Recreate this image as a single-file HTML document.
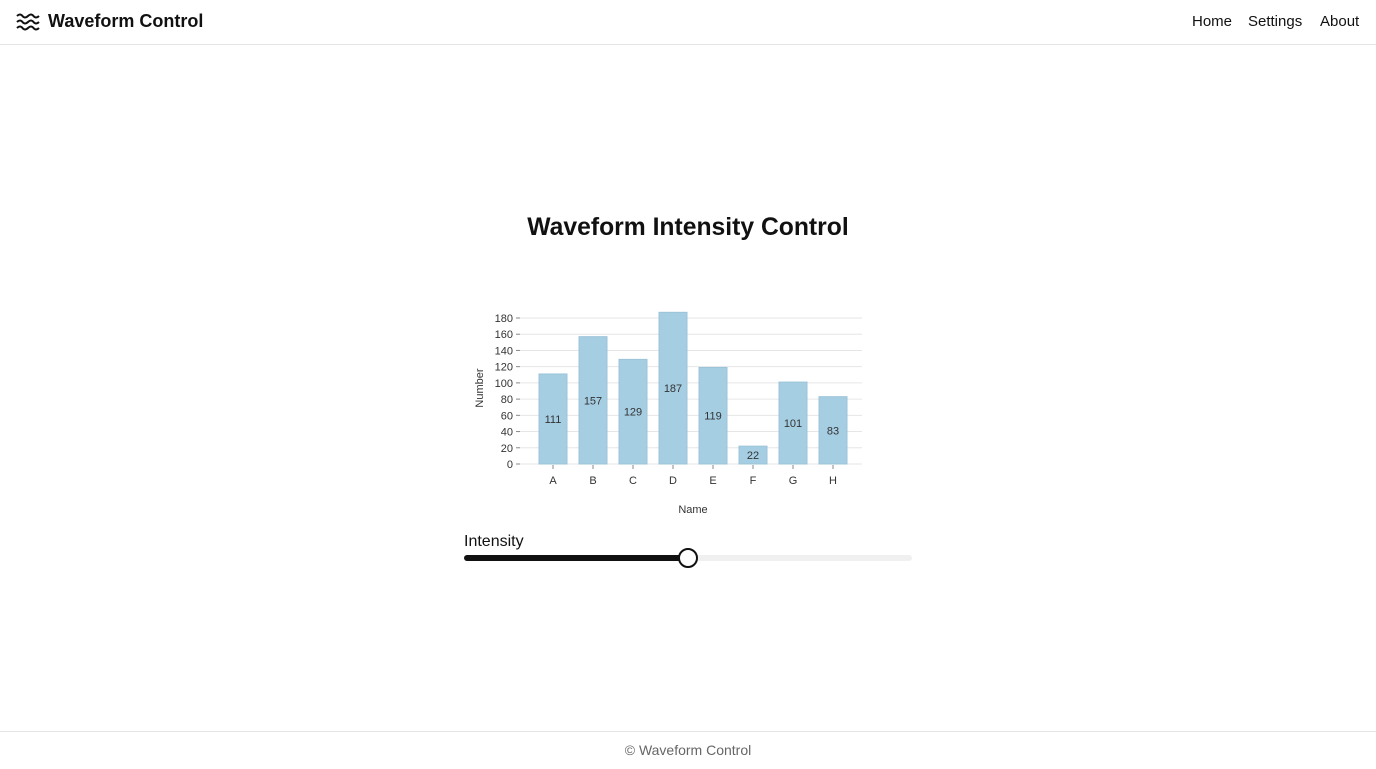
<!DOCTYPE html>
<html><head><meta charset="utf-8"><style>
body{margin:0;width:1376px;height:768px;background:#fff;font-family:"Liberation Sans",sans-serif;position:relative;overflow:hidden}
.hdr{position:absolute;left:0;top:0;width:1376px;height:44px;border-bottom:1px solid #e5e5e5}
.brand{position:absolute;left:48px;top:11px;font-size:18px;font-weight:bold;color:#111}
.nav{position:absolute;top:13px;font-size:15px;color:#111}
h1{position:absolute;left:0;width:1376px;top:214px;margin:0;text-align:center;font-size:24.7px;font-weight:bold;color:#111}
.foot{position:absolute;left:0;top:731px;width:1376px;height:37px;border-top:1px solid #e5e5e5;text-align:center;line-height:37px;font-size:14px;color:#666}
</style></head><body>
<div class="hdr">
<svg style="position:absolute;left:16px;top:13px" width="24" height="18" viewBox="0 0 24 18" fill="none" stroke="#111" stroke-width="2"><path d="M1 3q3-3 5.5 0t5.5 0 5.5 0 5.5 0"/><path d="M1 9q3-3 5.5 0t5.5 0 5.5 0 5.5 0"/><path d="M1 15q3-3 5.5 0t5.5 0 5.5 0 5.5 0"/></svg>
<div class="brand">Waveform Control</div>
<div class="nav" style="left:1192px">Home</div>
<div class="nav" style="left:1248px">Settings</div>
<div class="nav" style="left:1320px">About</div>
</div>
<h1>Waveform Intensity Control</h1>
<svg id="chart" style="position:absolute;left:0;top:0" width="1376" height="768"></svg>
<div style="position:absolute;left:464px;top:533px;font-size:16px;color:#111">Intensity</div>
<div style="position:absolute;left:464px;top:555px;width:448px;height:6px;border-radius:3px;background:#f0f0f0">
<div style="position:absolute;left:0;top:0;width:224px;height:6px;border-radius:3px;background:#111"></div>
<div style="position:absolute;left:214px;top:-7px;width:16px;height:16px;border-radius:50%;background:#fff;border:2px solid #111"></div>
</div>
<div class="foot">© Waveform Control</div>
<script>
const categories=["A","B","C","D","E","F","G","H"];
const values=[111,157,129,187,119,22,101,83];
const yTicks=[0,20,40,60,80,100,120,140,160,180];
const svg=document.getElementById('chart');const NS='http://www.w3.org/2000/svg';
function y(v){return 464-v*146/180;}
function x(i){return 553+i*40;}
function mk(t,a,txt){const e=document.createElementNS(NS,t);for(const k in a)e.setAttribute(k,a[k]);if(txt!==undefined)e.textContent=txt;svg.appendChild(e);return e;}
yTicks.forEach(t=>{
const g=mk('line',{x1:520,x2:862,y1:y(t),y2:y(t),stroke:'#e6e6e6','stroke-width':1});


mk('line',{x1:516,x2:520,y1:y(t),y2:y(t),stroke:'#888'});
const l=mk('text',{x:513,y:y(t)+4,'text-anchor':'end','font-size':11,fill:'#333','font-family':'Liberation Sans'},t);


});
categories.forEach((c,i)=>{
const b=mk('rect',{x:x(i)-14,y:y(values[i]),width:28,height:464-y(values[i]),fill:'#a6cee3',stroke:'#9cc4d9','stroke-width':1});


const v=mk('text',{x:x(i),y:(464+y(values[i]))/2+4,'text-anchor':'middle','font-size':11,fill:'#333','font-family':'Liberation Sans'},values[i]);


mk('line',{x1:x(i),x2:x(i),y1:465,y2:469,stroke:'#888'});
const xl=mk('text',{x:x(i),y:484,'text-anchor':'middle','font-size':11,fill:'#333','font-family':'Liberation Sans'},c);


});
const xt=mk('text',{x:693,y:513,'text-anchor':'middle','font-size':11,fill:'#333','font-family':'Liberation Sans'},'Name');


const yt=mk('text',{x:0,y:0,transform:'translate(483,388) rotate(-90)','text-anchor':'middle','font-size':11,fill:'#333','font-family':'Liberation Sans'},'Number');


</script>
</body></html>
